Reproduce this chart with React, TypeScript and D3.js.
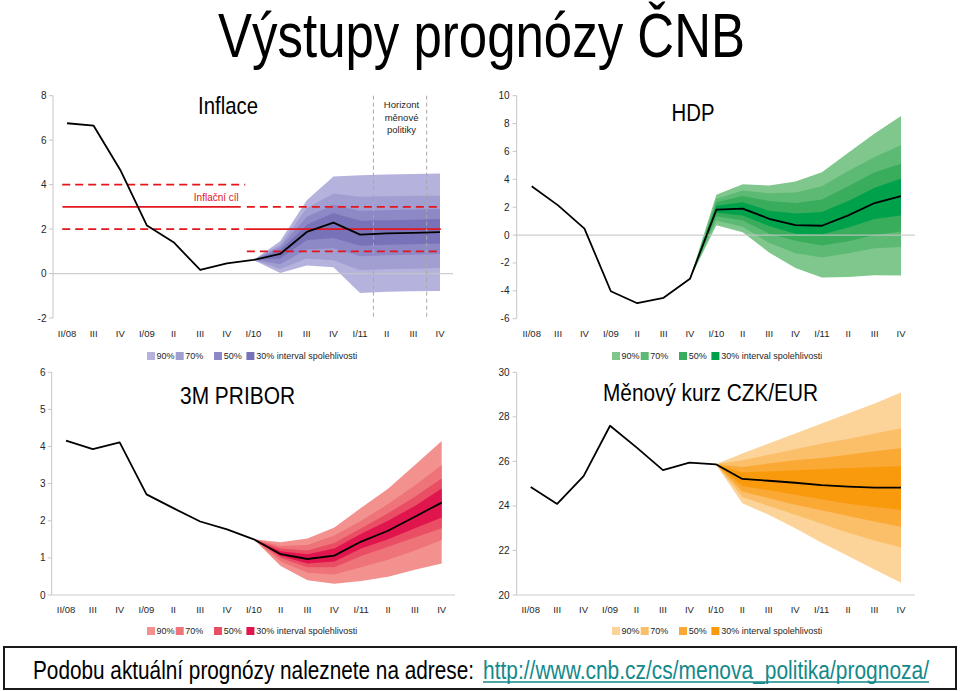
import React from "react";
import * as d3 from "d3";

// ---------- data ----------
const categories = ["II/08", "III", "IV", "I/09", "II", "III", "IV", "I/10", "II", "III", "IV", "I/11", "II", "III", "IV"];
const bandLabels = ["90%", "70%", "50%", "30% interval spolehlivosti"];

// Inflace
const inflationLine = [6.76, 6.65, 4.66, 2.16, 1.41, 0.16, 0.46, 0.61, 0.88, 1.87, 2.29, 1.75, 1.81, 1.83, 1.86];
const inflationFanStart = 7;
const inflationU90 = [0.61, 1.45, 3.3, 4.37, 4.42, 4.45, 4.48, 4.5];
const inflationL90 = [0.61, 0.02, 0.36, 0.28, -0.87, -0.82, -0.8, -0.78];
const inflationU70 = [0.61, 1.3, 2.95, 3.6, 3.45, 3.48, 3.5, 3.5];
const inflationL70 = [0.61, 0.2, 0.68, 0.6, 0.15, 0.2, 0.22, 0.25];
const inflationU50 = [0.61, 1.18, 2.55, 3.1, 2.82, 2.85, 2.88, 2.9];
const inflationL50 = [0.61, 0.42, 1.08, 1.14, 0.78, 0.82, 0.85, 0.88];
const inflationU30 = [0.61, 1.05, 2.2, 2.72, 2.38, 2.4, 2.42, 2.45];
const inflationL30 = [0.61, 0.68, 1.5, 1.6, 1.25, 1.3, 1.32, 1.35];
const inflationTicks = [-2, 0, 2, 4, 6, 8];
const targetOld = 3;
const targetNew = 2;
const targetTolerance = 1;

// HDP
const gdpLine = [3.5, 2.13, 0.46, -4.03, -4.89, -4.5, -3.14, 1.82, 1.9, 1.17, 0.72, 0.67, 1.41, 2.3, 2.8];
const gdpFanStart = 6;
const gdpU90 = [-3.14, 2.9, 3.64, 3.55, 3.84, 4.5, 5.9, 7.29, 8.55];
const gdpL90 = [-3.14, 0.7, 0.2, -1.25, -2.37, -3.05, -3.0, -2.88, -2.9];
const gdpU70 = [-3.14, 2.6, 3.2, 3.0, 3.05, 3.5, 4.6, 5.6, 6.45];
const gdpL70 = [-3.14, 1.05, 0.6, -0.55, -1.3, -1.6, -1.3, -0.95, -0.86];
const gdpU50 = [-3.14, 2.35, 2.8, 2.45, 2.3, 2.55, 3.5, 4.5, 5.12];
const gdpL50 = [-3.14, 1.35, 1.05, 0.1, -0.4, -0.75, -0.45, 0.0, 0.25];
const gdpU30 = [-3.14, 2.1, 2.35, 1.75, 1.55, 1.65, 2.45, 3.4, 4.05];
const gdpL30 = [-3.14, 1.6, 1.4, 0.65, 0.1, 0.05, 0.55, 1.15, 1.41];
const gdpTicks = [-6, -4, -2, 0, 2, 4, 6, 8, 10];

// 3M PRIBOR
const priborLine = [4.16, 3.93, 4.11, 2.71, 2.34, 1.98, 1.77, 1.5, 1.1, 0.97, 1.06, 1.44, 1.73, 2.11, 2.49];
const priborFanStart = 7;
const priborU90 = [1.5, 1.42, 1.52, 1.82, 2.35, 2.86, 3.5, 4.15];
const priborL90 = [1.5, 0.78, 0.4, 0.3, 0.38, 0.49, 0.68, 0.85];
const priborU70 = [1.5, 1.32, 1.35, 1.6, 2.0, 2.45, 2.95, 3.5];
const priborL70 = [1.5, 0.9, 0.6, 0.55, 0.75, 0.95, 1.2, 1.48];
const priborU50 = [1.5, 1.25, 1.2, 1.4, 1.8, 2.2, 2.65, 3.14];
const priborL50 = [1.5, 1.0, 0.75, 0.75, 1.05, 1.3, 1.55, 1.8];
const priborU30 = [1.5, 1.18, 1.1, 1.25, 1.65, 2.0, 2.4, 2.87];
const priborL30 = [1.5, 1.05, 0.85, 0.9, 1.25, 1.5, 1.8, 2.09];
const priborTicks = [0, 1, 2, 3, 4, 5, 6];

// Měnový kurz CZK/EUR
const fxLine = [24.85, 24.09, 25.34, 27.6, 26.63, 25.61, 25.94, 25.87, 25.21, 25.13, 25.04, 24.93, 24.87, 24.82, 24.82];
const fxFanStart = 7;
const fxU90 = [25.87, 26.35, 26.8, 27.25, 27.7, 28.15, 28.6, 29.09];
const fxL90 = [25.87, 24.12, 23.6, 23.0, 22.35, 21.75, 21.15, 20.55];
const fxU70 = [25.87, 26.05, 26.3, 26.55, 26.8, 27.0, 27.25, 27.49];
const fxL70 = [25.87, 24.4, 24.0, 23.6, 23.2, 22.8, 22.45, 22.13];
const fxU50 = [25.87, 25.75, 25.9, 26.05, 26.15, 26.3, 26.45, 26.59];
const fxL50 = [25.87, 24.65, 24.35, 24.05, 23.8, 23.55, 23.3, 23.07];
const fxU30 = [25.87, 25.5, 25.55, 25.6, 25.65, 25.7, 25.75, 25.79];
const fxL30 = [25.87, 24.9, 24.7, 24.5, 24.3, 24.1, 23.95, 23.82];
const fxTicks = [20, 22, 24, 26, 28, 30];

// colours
const purples = ["#b5b3dd", "#a19ed2", "#8d89c6", "#7873b8"];
const greens = ["#7fc78c", "#5dba74", "#3aad5d", "#00a14b"];
const reds = ["#f3918e", "#ee7479", "#e94e64", "#e1154d"];
const oranges = ["#fcd499", "#fbbf69", "#faa935", "#f89a0c"];

const FONT = "'Liberation Sans', Arial, Helvetica, sans-serif";
const AXIS = "#c6c6c6";
const TEXT = "#262626";

type Band = { upper: number[]; lower: number[]; color: string };

type PanelProps = {
  xFirst: number;
  xLast: number;
  axisX: number;
  labelRight: number;
  yTopPx: number;
  yBottomPx: number;
  yMin: number;
  yMax: number;
  ticks: number[];
  baseValue: number;
  baseEnd: number;
  xLabelY: number;
  line: number[];
  fanStart: number;
  bands: Band[];
  extras?: (x: d3.ScaleLinear<number, number>, y: d3.ScaleLinear<number, number>) => React.ReactNode;
};

// Condensed text: a smaller font stretched vertically, fitted to a width.
function NarrowText({
  x,
  y,
  size,
  width,
  anchor = "start",
  fill = "#000",
  children,
}: {
  x: number;
  y: number;
  size: number;
  width: number;
  anchor?: "start" | "middle" | "end";
  fill?: string;
  children: React.ReactNode;
}) {
  const k = 1.22;
  return (
    <text
      transform={`translate(${x},${y}) scale(1,${k})`}
      x={0}
      y={0}
      textAnchor={anchor}
      fontSize={size / k}
      fontFamily={FONT}
      fill={fill}
      textLength={width}
      lengthAdjust="spacingAndGlyphs"
    >
      {children}
    </text>
  );
}

function Panel(p: PanelProps) {
  const x = d3.scaleLinear().domain([0, categories.length - 1]).range([p.xFirst, p.xLast]);
  const y = d3.scaleLinear().domain([p.yMin, p.yMax]).range([p.yBottomPx, p.yTopPx]);
  const lineGen = d3
    .line<number>()
    .x((_, i) => x(i))
    .y((d) => y(d));
  return (
    <g>
      {p.bands.map((b, k) => {
        const area = d3
          .area<number>()
          .x((_, i) => x(p.fanStart + i))
          .y0((_, i) => y(b.lower[i]))
          .y1((d) => y(d));
        return <path key={k} d={area(b.upper) || ""} fill={b.color} stroke="none" />;
      })}
      {/* y axis */}
      <line x1={p.axisX} x2={p.axisX} y1={y(p.yMax)} y2={y(p.yMin)} stroke={AXIS} strokeWidth={1} />
      {p.ticks.map((t) => (
        <g key={t}>
          <line x1={p.axisX - 4} x2={p.axisX} y1={y(t)} y2={y(t)} stroke={AXIS} strokeWidth={1} />
          <text x={p.labelRight} y={y(t)} dy="0.35em" textAnchor="end" fontSize={10} fontFamily={FONT} fill={TEXT}>
            {t}
          </text>
        </g>
      ))}
      {/* base line */}
      <line x1={p.axisX} x2={p.baseEnd} y1={y(p.baseValue)} y2={y(p.baseValue)} stroke={AXIS} strokeWidth={1.2} opacity={0.85} />
      {/* x labels */}
      {categories.map((c, i) => (
        <text key={i} x={x(i)} y={p.xLabelY} textAnchor="middle" fontSize={9.5} fontFamily={FONT} fill={TEXT}>
          {c}
        </text>
      ))}
      {p.extras ? p.extras(x, y) : null}
      <path d={lineGen(p.line) || ""} fill="none" stroke="#000" strokeWidth={1.8} strokeLinejoin="round" />
    </g>
  );
}

function Legend({ x0, y0, colors }: { x0: number; y0: number; colors: string[] }) {
  const squareX = [0, 28.7, 67, 99.4];
  const textX = [9.4, 38.3, 76.7, 109.2];
  return (
    <g>
      {bandLabels.map((l, i) => (
        <g key={i}>
          <rect x={x0 + squareX[i]} y={y0 - 4} width={8} height={8} fill={colors[i]} />
          <text x={x0 + textX[i]} y={y0} dy="0.35em" fontSize={9} fontFamily={FONT} fill={TEXT}>
            {l}
          </text>
        </g>
      ))}
    </g>
  );
}

function makeBands(u: number[][], l: number[][], colors: string[]): Band[] {
  return u.map((up, i) => ({ upper: up, lower: l[i], color: colors[i] }));
}

export default function App() {
  const RED = "#e2161c";
  const inflationExtras = (x: d3.ScaleLinear<number, number>, y: d3.ScaleLinear<number, number>) => (
    <g>
      {/* target 3 % ± 1 until end of 2009 */}
      <line x1={x(-0.17)} x2={x(6.52)} y1={y(targetOld)} y2={y(targetOld)} stroke={RED} strokeWidth={1.8} />
      <line x1={x(-0.18)} x2={x(6.69)} y1={y(targetOld + targetTolerance)} y2={y(targetOld + targetTolerance)} stroke={RED} strokeWidth={1.8} strokeDasharray="8 5" />
      <line x1={x(-0.18)} x2={x(6.69)} y1={y(targetOld - targetTolerance)} y2={y(targetOld - targetTolerance)} stroke={RED} strokeWidth={1.8} strokeDasharray="8 5" />
      {/* target 2 % ± 1 from 2010 */}
      <line x1={x(6.7)} x2={x(14.03)} y1={y(targetNew)} y2={y(targetNew)} stroke={RED} strokeWidth={1.8} />
      <line x1={x(6.75)} x2={x(14.03)} y1={y(targetNew + targetTolerance)} y2={y(targetNew + targetTolerance)} stroke={RED} strokeWidth={1.8} strokeDasharray="8 5" />
      <line x1={x(6.75)} x2={x(14.03)} y1={y(targetNew - targetTolerance)} y2={y(targetNew - targetTolerance)} stroke={RED} strokeWidth={1.8} strokeDasharray="8 5" />
      <text x={x(6.45)} y={y(targetOld) - 6} textAnchor="end" fontSize={10} fontFamily={FONT} fill={RED}>
        Inflační cíl
      </text>
      {/* monetary policy horizon */}
      {[11.5, 13.5].map((v) => (
        <line key={v} x1={x(v)} x2={x(v)} y1={y(8)} y2={y(-2)} stroke="#a8a8a8" strokeWidth={1} strokeDasharray="4 3" />
      ))}
      {["Horizont", "měnové", "politiky"].map((t, i) => (
        <text key={t} x={x(12.5) + 1.5} y={108 + i * 12.5} textAnchor="middle" fontSize={9.5} fontFamily={FONT} fill={TEXT}>
          {t}
        </text>
      ))}
    </g>
  );

  return (
    <svg width={960} height={691} style={{ position: "absolute", left: 0, top: 0, background: "#fff" }}>
      <rect x={0} y={0} width={960} height={691} fill="#fff" />
      <NarrowText x={218} y={57} size={63} width={527}>
        Výstupy prognózy ČNB
      </NarrowText>

      {/* Inflace */}
      <Panel
        xFirst={67}
        xLast={440}
        axisX={53}
        labelRight={46.5}
        yTopPx={95.7}
        yBottomPx={318}
        yMin={-2}
        yMax={8}
        ticks={inflationTicks}
        baseValue={0}
        baseEnd={453}
        xLabelY={336.5}
        line={inflationLine}
        fanStart={inflationFanStart}
        bands={makeBands(
          [inflationU90, inflationU70, inflationU50, inflationU30],
          [inflationL90, inflationL70, inflationL50, inflationL30],
          purples
        )}
        extras={inflationExtras}
      />
      <NarrowText x={228} y={113.5} size={24} width={60} anchor="middle">
        Inflace
      </NarrowText>
      <Legend x0={147} y0={356} colors={purples} />

      {/* HDP */}
      <Panel
        xFirst={531.7}
        xLast={901}
        axisX={516.7}
        labelRight={509.5}
        yTopPx={95.7}
        yBottomPx={318.7}
        yMin={-6}
        yMax={10}
        ticks={gdpTicks}
        baseValue={0}
        baseEnd={915}
        xLabelY={336.5}
        line={gdpLine}
        fanStart={gdpFanStart}
        bands={makeBands([gdpU90, gdpU70, gdpU50, gdpU30], [gdpL90, gdpL70, gdpL50, gdpL30], greens)}
      />
      <NarrowText x={693} y={120.5} size={24} width={43} anchor="middle">
        HDP
      </NarrowText>
      <Legend x0={612} y0={356} colors={greens} />

      {/* 3M PRIBOR */}
      <Panel
        xFirst={66}
        xLast={441.7}
        axisX={51.7}
        labelRight={45.5}
        yTopPx={372.3}
        yBottomPx={595}
        yMin={0}
        yMax={6}
        ticks={priborTicks}
        baseValue={0}
        baseEnd={455}
        xLabelY={612.5}
        line={priborLine}
        fanStart={priborFanStart}
        bands={makeBands([priborU90, priborU70, priborU50, priborU30], [priborL90, priborL70, priborL50, priborL30], reds)}
      />
      <NarrowText x={237.5} y={404} size={24} width={115} anchor="middle">
        3M PRIBOR
      </NarrowText>
      <Legend x0={147} y0={631} colors={reds} />

      {/* Měnový kurz */}
      <Panel
        xFirst={530.7}
        xLast={901}
        axisX={516.7}
        labelRight={509.5}
        yTopPx={372.3}
        yBottomPx={595}
        yMin={20}
        yMax={30}
        ticks={fxTicks}
        baseValue={20}
        baseEnd={915}
        xLabelY={612.5}
        line={fxLine}
        fanStart={fxFanStart}
        bands={makeBands([fxU90, fxU70, fxU50, fxU30], [fxL90, fxL70, fxL50, fxL30], oranges)}
      />
      <NarrowText x={710.5} y={401} size={24} width={215} anchor="middle">
        Měnový kurz CZK/EUR
      </NarrowText>
      <Legend x0={612} y0={631} colors={oranges} />

      {/* bottom banner */}
      <rect x={4} y={647} width={952} height={42} fill="#fff" stroke="#1a1a1a" strokeWidth={2} />
      <NarrowText x={33} y={679} size={26} width={441}>
        Podobu aktuální prognózy naleznete na adrese:
      </NarrowText>
      <NarrowText x={483} y={679} size={26} width={446} fill="#13898a">
        http://www.cnb.cz/cs/menova_politika/prognoza/
      </NarrowText>
      <line x1={483} x2={929} y1={682} y2={682} stroke="#13898a" strokeWidth={1.5} />
    </svg>
  );
}
